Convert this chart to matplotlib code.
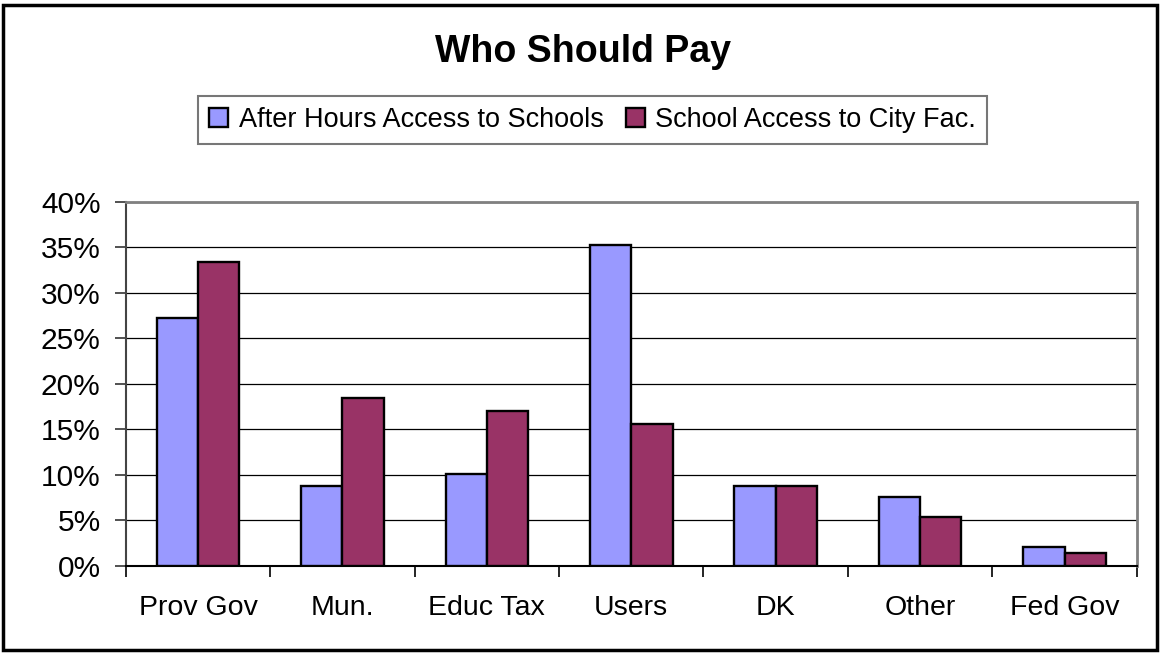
import numpy as np
import matplotlib.pyplot as plt
from matplotlib.patches import Rectangle
from matplotlib.ticker import PercentFormatter

plt.rcParams['font.family'] = ['Liberation Sans', 'DejaVu Sans']

categorias = ['Prov Gov', 'Mun.', 'Educ Tax', 'Users', 'DK', 'Other', 'Fed Gov']
escolas = [27.2, 8.8, 10.1, 35.3, 8.8, 7.6, 2.1]
cidade = [33.4, 18.4, 17.0, 15.6, 8.8, 5.4, 1.4]
nomes_series = ['After Hours Access to Schools', 'School Access to City Fac.']
cor_azul = '#9999FF'
cor_vinho = '#993366'

fig = plt.figure(figsize=(11.6, 6.53), dpi=100)
ax = fig.add_axes([0.1084, 0.1337, 0.8716, 0.557])

x = np.arange(len(categorias))
largura = 1 / 3.5  # gap width 150%
ax.bar(x - largura / 2, escolas, largura, color=cor_azul, edgecolor='black', linewidth=1.7,
       label=nomes_series[0], zorder=3)
ax.bar(x + largura / 2, cidade, largura, color=cor_vinho, edgecolor='black', linewidth=1.7,
       label=nomes_series[1], zorder=3)

ax.set_xlim(-0.5, len(categorias) - 0.5)
ax.set_ylim(0, 40)
ax.set_yticks(np.arange(0, 41, 5))
ax.yaxis.set_major_formatter(PercentFormatter(decimals=0))
ax.yaxis.grid(True, color='black', linewidth=0.9, zorder=0)
ax.set_axisbelow(True)

ax.set_xticks(x)
ax.set_xticklabels(categorias)
ax.set_xticks(np.arange(-0.5, len(categorias)), minor=True)
ax.tick_params(axis='x', which='major', length=0, pad=21, labelsize=20.5)
ax.tick_params(axis='x', which='minor', length=8, width=1.2, direction='out', color='black')
ax.tick_params(axis='y', length=8, width=1.2, direction='out', pad=10, labelsize=21.5, color='#333333')

for lado in ['top', 'right']:
    ax.spines[lado].set_color('#808080')
    ax.spines[lado].set_linewidth(2)
ax.spines['left'].set_color('#444444')
ax.spines['left'].set_linewidth(1.5)
ax.spines['bottom'].set_color('black')
ax.spines['bottom'].set_linewidth(1.5)

fig.suptitle('Who Should Pay', fontsize=27, fontweight='bold', x=0.503, y=0.921, va='center')

leg = fig.legend(loc='center', bbox_to_anchor=(0.511, 0.816), ncol=2, fontsize=19.5,
                 frameon=True, fancybox=False, edgecolor='#555555', handlelength=0.7,
                 handleheight=0.7, handletextpad=0.4, columnspacing=0.8, borderpad=0.4)
leg.get_frame().set_linewidth(1.5)

# borda externa do grafico
fig.patches.append(Rectangle((0.003, 0.005), 0.994, 0.987, transform=fig.transFigure,
                             fill=False, edgecolor='black', linewidth=2.5))

fig.savefig('out.png', dpi=100)
